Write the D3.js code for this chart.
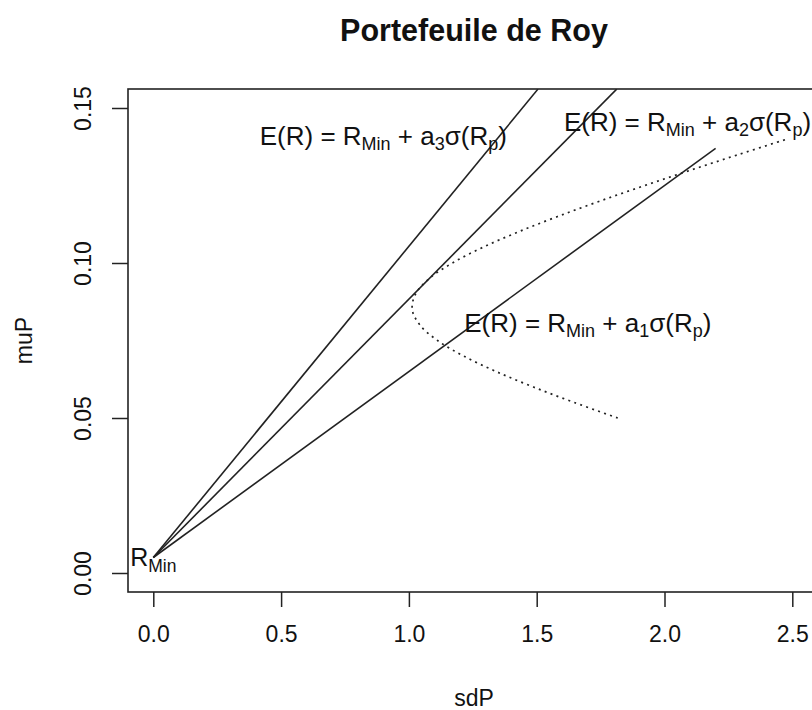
<!DOCTYPE html>
<html>
<head>
<meta charset="utf-8">
<script src="https://cdn.jsdelivr.net/npm/d3@7"></script>
<style>
  body { margin: 0; background: #fff; }
  text { font-family: "Liberation Sans", Arial, sans-serif; fill: #111; }
</style>
</head>
<body>
<script>
// values
var rMin = 0.005;

// dotted curve (sd, mu)
var curveMu = [0.050, 0.055, 0.060, 0.065, 0.070, 0.075, 0.080, 0.085, 0.090, 0.095,
               0.100, 0.105, 0.110, 0.115, 0.120, 0.125, 0.130, 0.135, 0.140];
var curveSd = [1.817, 1.647, 1.487, 1.341, 1.214, 1.112, 1.043, 1.013, 1.026, 1.080,
               1.170, 1.288, 1.427, 1.582, 1.748, 1.923, 2.104, 2.290, 2.480];

// the three lines from R_Min (end points)
var lineEndSd = [2.20, 1.813, 1.505];
var lineEndMu = [0.137, 0.1561, 0.1561];

// labels: index of a, anchor in data units
var labelIdx = [1, 2, 3];
var labelSd = [1.70, 2.09, 0.90];
var labelMu = [0.0805, 0.1455, 0.141];

var xTicks = [0, 0.5, 1, 1.5, 2, 2.5];
var yTicks = [0, 0.05, 0.10, 0.15];

var width = 812, height = 710;
var box = { left: 128, right: 822, top: 89, bottom: 592 };

var svg = d3.select('body').append('svg')
  .attr('width', width)
  .attr('height', height);

var x = d3.scaleLinear().domain([0, 2.5]).range([153.3, 792.3]);
var y = d3.scaleLinear().domain([0, 0.15]).range([573, 108]);

svg.append('clipPath').attr('id', 'clip')
  .append('rect')
  .attr('x', box.left).attr('y', box.top)
  .attr('width', box.right - box.left).attr('height', box.bottom - box.top);

// title
svg.append('text')
  .attr('x', 474)
  .attr('y', 41)
  .attr('text-anchor', 'middle')
  .style('font-size', '30.5px')
  .style('font-weight', 'bold')
  .text('Portefeuile de Roy');

// axes
var xAxis = svg.append('g')
  .attr('transform', 'translate(0,' + box.bottom + ')')
  .call(d3.axisBottom(x).tickValues(xTicks).tickSize(15).tickPadding(19)
    .tickFormat(d3.format('.1f')));
xAxis.select('.domain').remove();
xAxis.selectAll('text').style('font-size', '23px').attr('fill', '#111');

var yAxis = svg.append('g')
  .attr('transform', 'translate(' + box.left + ',0)')
  .call(d3.axisLeft(y).tickValues(yTicks).tickSize(16).tickFormat(d3.format('.2f')));
yAxis.select('.domain').remove();
yAxis.selectAll('text')
  .style('font-size', '23px')
  .attr('fill', '#111')
  .attr('x', null).attr('dy', null)
  .attr('text-anchor', 'middle')
  .attr('transform', function(d) { return 'translate(-37,0) rotate(-90)'; });
svg.selectAll('.tick line').attr('stroke', '#222').attr('stroke-width', 1.5);

// box
svg.append('rect')
  .attr('x', box.left).attr('y', box.top)
  .attr('width', box.right - box.left).attr('height', box.bottom - box.top)
  .attr('fill', 'none').attr('stroke', '#222').attr('stroke-width', 1.6);

// axis titles
svg.append('text')
  .attr('x', 474).attr('y', 706)
  .attr('text-anchor', 'middle').style('font-size', '23px')
  .text('sdP');
svg.append('text')
  .attr('transform', 'translate(32,' + ((box.top + box.bottom) / 2) + ') rotate(-90)')
  .attr('text-anchor', 'middle').style('font-size', '23px')
  .text('muP');

var plot = svg.append('g').attr('clip-path', 'url(#clip)');

// curve
var pts = curveMu.map(function(m, i) { return [curveSd[i], m]; });
plot.append('path')
  .datum(pts)
  .attr('d', d3.line().curve(d3.curveCatmullRom)
    .x(function(d) { return x(d[0]); })
    .y(function(d) { return y(d[1]); }))
  .attr('fill', 'none')
  .attr('stroke', '#222')
  .attr('stroke-width', 1.7)
  .attr('stroke-dasharray', '2,4.3');

// lines
plot.selectAll('.cml').data(lineEndSd)
  .enter().append('line')
  .attr('class', 'cml')
  .attr('x1', x(0)).attr('y1', y(rMin))
  .attr('x2', function(d) { return x(d); })
  .attr('y2', function(d, i) { return y(lineEndMu[i]); })
  .attr('stroke', '#222')
  .attr('stroke-width', 1.6);

// R_Min label
var rl = svg.append('text')
  .attr('x', x(0)).attr('y', y(rMin) + 8)
  .attr('text-anchor', 'middle')
  .style('font-size', '25px');
rl.append('tspan').text('R');
rl.append('tspan').attr('dy', 6).style('font-size', '17.5px').text('Min');

// equation labels
labelIdx.forEach(function(a, i) {
  var t = svg.append('text')
    .attr('x', x(labelSd[i])).attr('y', y(labelMu[i]) + 9)
    .attr('text-anchor', 'middle')
    .style('font-size', '26px');
  t.append('tspan').text('E(R) = R');
  t.append('tspan').attr('dy', 5).style('font-size', '18px').text('Min');
  t.append('tspan').attr('dy', -5).text(' + a');
  t.append('tspan').attr('dy', 5).style('font-size', '18px').text(a);
  t.append('tspan').attr('dy', -5).text('\u03c3(R');
  t.append('tspan').attr('dy', 5).style('font-size', '18px').text('p');
  t.append('tspan').attr('dy', -5).text(')');
});
</script>
</body>
</html>
